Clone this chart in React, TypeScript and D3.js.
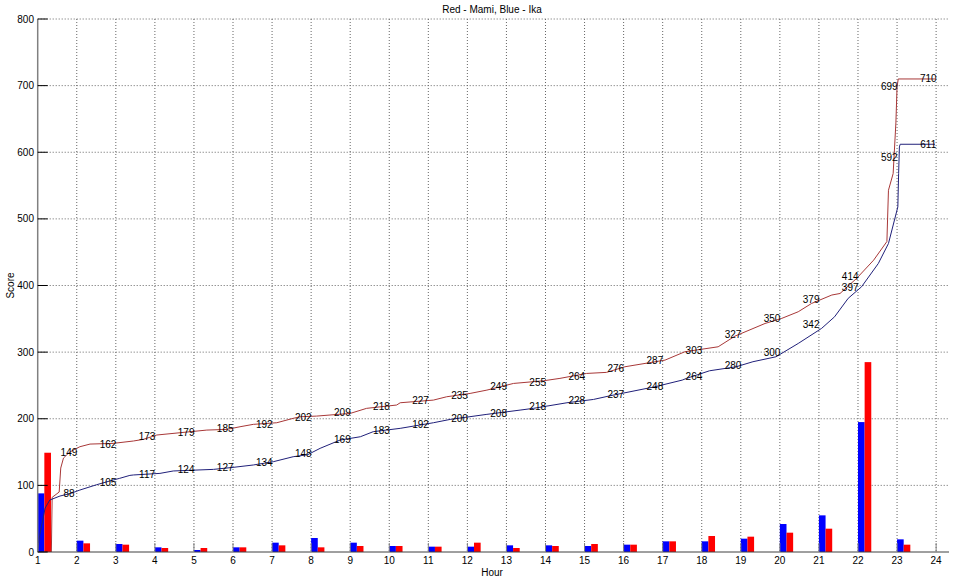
import React from "react";
import * as d3 from "d3";

const hours = d3.range(1, 24);
const tickHours = d3.range(1, 25);
const yTicks = [0, 100, 200, 300, 400, 500, 600, 700, 800];

// per-hour increments (bars)
const blueBars = [88, 17, 12, 7, 3, 7, 14, 21, 14, 9, 8, 8, 10, 10, 9, 11, 16, 16, 20, 42, 55, 195, 19];
const redBars = [149, 13, 11, 6, 6, 7, 10, 7, 9, 9, 8, 14, 6, 9, 12, 11, 16, 24, 23, 29, 35, 285, 11];

// cumulative labels
const blueLabels = [88, 105, 117, 124, 127, 134, 148, 169, 183, 192, 200, 208, 218, 228, 237, 248, 264, 280, 300, 342, 397, 592, 611];
const redLabels = [149, 162, 173, 179, 185, 192, 202, 209, 218, 227, 235, 249, 255, 264, 276, 287, 303, 327, 350, 379, 414, 699, 710];

// cumulative score lines [hour, score]
const redLine: [number, number][] = [
  [1.35, 0], [1.37, 82], [1.55, 90], [1.59, 126], [1.66, 141], [1.8, 149], [1.91, 153], [2.08, 158],
  [2.34, 162], [2.93, 163], [3.45, 166.6], [3.7, 169], [4.05, 175.6], [4.64, 179], [5.33, 183],
  [5.84, 184], [6.18, 188], [6.52, 191.6], [7.12, 194], [7.54, 200.6], [7.72, 203], [8.14, 204],
  [9.0, 208], [9.42, 215.6], [10.19, 220.6], [10.28, 224], [11.13, 228], [11.47, 233], [12.07, 238],
  [12.5, 243], [13.18, 253], [13.95, 257], [14.37, 260.6], [15.05, 268], [15.56, 269.6], [16.03, 278],
  [17.06, 288], [17.57, 300.6], [18.42, 308], [18.85, 324], [19.62, 343], [20.05, 350.7], [20.47, 360.6],
  [20.81, 373], [21.33, 385.7], [21.54, 388], [21.97, 411], [22.4, 438], [22.74, 466], [22.78, 543],
  [22.9, 568], [22.97, 644], [23.0, 698], [23.03, 710], [23.97, 710],
];
const blueLine: [number, number][] = [
  [1.0, 0], [1.05, 25], [1.19, 66], [1.31, 78], [1.57, 84], [1.85, 88], [2.08, 93], [2.51, 101],
  [2.93, 108], [3.1, 110.6], [3.36, 115], [3.45, 115.6], [4.13, 118], [4.47, 121.6], [5.5, 124],
  [6.0, 127], [6.52, 130.6], [7.03, 135.5], [7.54, 143], [7.91, 146], [8.23, 155.6], [8.74, 168],
  [9.26, 173], [9.59, 180.6], [10.28, 185.6], [11.13, 194], [11.56, 199], [12.5, 206.6], [13.35, 213],
  [13.69, 215.6], [14.55, 224], [15.23, 229], [15.74, 235.6], [15.95, 238], [16.8, 248], [17.5, 258],
  [17.61, 260.6], [18.2, 272], [18.88, 278], [19.31, 285.6], [19.9, 293], [20.47, 313], [21.07, 335.7],
  [21.4, 353], [21.75, 380.8], [22.09, 398], [22.52, 433], [22.78, 463], [23.02, 518], [23.04, 568],
  [23.06, 608], [23.08, 612], [23.97, 612],
];

const W = 959;
const H = 583;
const FONT = "'Liberation Sans', Arial, sans-serif";

export default function App() {
  const x = d3.scaleLinear().domain([1, 24.33]).range([37.7, 949]);
  const y = d3.scaleLinear().domain([0, 800]).range([552, 19]);
  const barW = 0.17;
  const line = d3.line<[number, number]>().x((d) => x(d[0])).y((d) => y(d[1]));

  return (
    <svg width={W} height={H} style={{ position: "absolute", left: 0, top: 0, background: "#fff" }} fontFamily={FONT}>
      <rect x={0} y={0} width={W} height={H} fill="#fff" />
      {/* grid */}
      {tickHours.filter((h) => h > 1).map((h) => (
        <line key={"gx" + h} x1={x(h)} x2={x(h)} y1={y(800)} y2={y(0)} stroke="#666" strokeWidth={1} strokeDasharray="1 2" />
      ))}
      {yTicks.filter((v) => v > 0).map((v) => (
        <line key={"gy" + v} x1={x(1)} x2={x(24.33)} y1={y(v)} y2={y(v)} stroke="#666" strokeWidth={1} strokeDasharray="1 2" />
      ))}
      {/* bars */}
      {hours.map((h, i) => (
        <g key={"b" + h}>
          <rect x={x(h)} y={y(blueBars[i])} width={x(h + barW) - x(h)} height={y(0) - y(blueBars[i])} fill="#0000ff" />
          <rect x={x(h + barW)} y={y(redBars[i])} width={x(h + 2 * barW) - x(h + barW)} height={y(0) - y(redBars[i])} fill="#ff0000" />
        </g>
      ))}
      {/* lines */}
      <path d={line(redLine) || ""} fill="none" stroke="#a83838" strokeWidth={1} />
      <path d={line(blueLine) || ""} fill="none" stroke="#20207a" strokeWidth={1} />
      {/* labels */}
      {hours.map((h, i) => (
        <g key={"l" + h} fontSize={10} fill="#000" textAnchor="middle">
          <text x={x(h + 0.8)} y={y(redLabels[i])} dy="0.35em">{redLabels[i]}</text>
          <text x={x(h + 0.8)} y={y(blueLabels[i])} dy="0.35em">{blueLabels[i]}</text>
        </g>
      ))}
      {/* axes */}
      <line x1={x(1)} x2={x(24.33)} y1={y(0)} y2={y(0)} stroke="#404040" strokeWidth={1} />
      <line x1={x(1)} x2={x(1)} y1={y(0)} y2={y(800)} stroke="#808080" strokeWidth={1.5} />
      {tickHours.map((h) => (
        <g key={"tx" + h}>
          <line x1={x(h)} x2={x(h)} y1={y(0)} y2={y(0) - 9} stroke="#808080" strokeWidth={1} />
          <text x={x(h)} y={560} dy="0.35em" fontSize={10} textAnchor="middle" fill="#000">{h}</text>
        </g>
      ))}
      {yTicks.map((v) => (
        <g key={"ty" + v}>
          <line x1={x(1)} x2={x(1) + 10} y1={y(v)} y2={y(v)} stroke="#000" strokeWidth={1} />
          <text x={34} y={y(v)} dy="0.35em" fontSize={10} textAnchor="end" fill="#000">{v}</text>
        </g>
      ))}
      <text x={492} y={9} dy="0.35em" fontSize={10} textAnchor="middle" fill="#000">Red - Mami, Blue - Ika</text>
      <text x={492} y={572} dy="0.35em" fontSize={10} textAnchor="middle" fill="#000">Hour</text>
      <text transform={`translate(10,${(y(0) + y(800)) / 2}) rotate(-90)`} dy="0.35em" fontSize={10} textAnchor="middle" fill="#000">Score</text>
    </svg>
  );
}
